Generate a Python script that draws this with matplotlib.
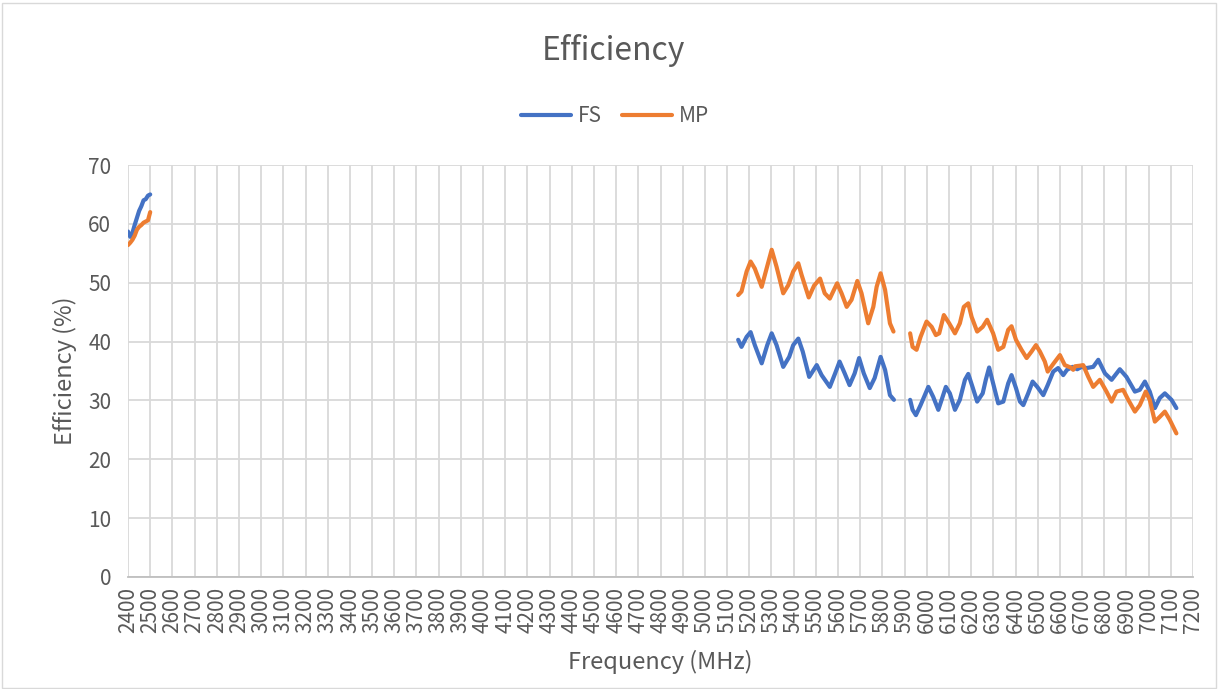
import matplotlib
matplotlib.use("Agg")
import matplotlib.pyplot as plt
import numpy as np

plt.rcParams['font.family'] = ['Noto Sans CJK JP', 'DejaVu Sans']

nan = np.nan

# FS series, three bands separated by gaps (nan)
fs_freq = [2400, 2410, 2420, 2430, 2440, 2450, 2460, 2470, 2480, 2490, 2500, nan,
           5150, 5165, 5188, 5206, 5225, 5256, 5281, 5301, 5323, 5353, 5380, 5398,
           5421, 5441, 5470, 5504, 5526, 5563, 5587, 5607, 5630, 5652, 5675, 5695,
           5716, 5743, 5765, 5792, 5812, 5834, 5852, nan,
           5925, 5936, 5951, 5972, 6007, 6029, 6052, 6067, 6086, 6104, 6127, 6149,
           6172, 6187, 6206, 6227, 6252, 6266, 6281, 6299, 6322, 6345, 6367, 6382,
           6402, 6420, 6435, 6457, 6477, 6498, 6525, 6545, 6570, 6592, 6615, 6632,
           6657, 6678, 6698, 6720, 6750, 6773, 6803, 6833, 6870, 6900, 6938, 6960,
           6983, 7005, 7028, 7050, 7073, 7103, 7125]
fs_eff = [58.7, 57.8, 58.5, 59.8, 61.0, 62.2, 63.0, 64.0, 64.2, 64.8, 65.0, nan,
          40.3, 39.1, 40.8, 41.6, 39.4, 36.3, 39.4, 41.4, 39.4, 35.7, 37.4, 39.4,
          40.5, 38.3, 34.0, 36.0, 34.3, 32.3, 34.6, 36.6, 34.6, 32.6, 34.6, 37.2,
          34.6, 32.1, 33.8, 37.4, 35.2, 30.9, 30.1, nan,
          30.1, 28.4, 27.5, 29.2, 32.3, 30.6, 28.4, 30.1, 32.3, 31.2, 28.4, 30.1,
          33.5, 34.5, 32.3, 29.8, 31.2, 33.5, 35.6, 32.9, 29.5, 29.8, 32.9, 34.3,
          32.1, 29.8, 29.2, 31.2, 33.2, 32.3, 30.9, 32.6, 34.9, 35.5, 34.3, 35.2,
          35.7, 35.3, 35.7, 35.5, 35.7, 36.9, 34.6, 33.5, 35.3, 34.0, 31.5, 31.8,
          33.2, 31.5, 28.7, 30.4, 31.2, 30.1, 28.7]

# MP series
mp_freq = [2400, 2410, 2420, 2430, 2440, 2450, 2460, 2470, 2480, 2490, 2500, nan,
           5150, 5165, 5188, 5206, 5225, 5256, 5278, 5301, 5323, 5353, 5376, 5398,
           5421, 5436, 5468, 5492, 5519, 5540, 5563, 5578, 5596, 5616, 5639, 5661,
           5687, 5706, 5736, 5759, 5774, 5792, 5812, 5834, 5850, nan,
           5925, 5936, 5954, 5972, 5999, 6022, 6041, 6056, 6077, 6101, 6127, 6149,
           6167, 6187, 6202, 6227, 6252, 6272, 6299, 6322, 6345, 6367, 6382, 6402,
           6427, 6450, 6472, 6492, 6510, 6532, 6545, 6570, 6600, 6622, 6648, 6660,
           6668, 6690, 6705, 6728, 6750, 6780, 6810, 6833, 6855, 6885, 6908, 6938,
           6960, 6987, 7005, 7028, 7050, 7073, 7095, 7125]
mp_eff = [56.4, 56.8, 57.3, 58.0, 59.0, 59.5, 59.8, 60.2, 60.4, 60.6, 62.0, nan,
          47.9, 48.5, 51.9, 53.6, 52.4, 49.3, 52.4, 55.6, 52.7, 48.2, 49.6, 51.9,
          53.3, 51.3, 47.5, 49.5, 50.7, 48.2, 47.3, 48.5, 49.9, 48.2, 45.9, 47.1,
          50.3, 48.2, 43.1, 45.9, 49.3, 51.6, 48.8, 43.1, 41.7, nan,
          41.4, 39.1, 38.6, 40.8, 43.4, 42.5, 41.1, 41.4, 44.5, 43.1, 41.4, 43.1,
          45.9, 46.5, 44.2, 41.7, 42.5, 43.7, 41.4, 38.6, 39.1, 42.0, 42.6, 40.3,
          38.6, 37.2, 38.3, 39.4, 38.3, 36.6, 34.9, 36.2, 37.7, 36.0, 35.6, 35.2,
          35.8, 35.9, 36.0, 34.0, 32.3, 33.5, 31.5, 29.8, 31.5, 31.8, 30.1, 28.1,
          29.2, 31.5, 30.1, 26.4, 27.2, 28.1, 26.7, 24.4]

text_col = '#595959'
grid_col = '#d9d9d9'

fig = plt.figure(figsize=(12.18, 6.89), dpi=100)
ax = fig.add_axes([0.1051, 0.1626, 0.8744, 0.5979])

ax.plot(fs_freq, fs_eff, color='#4472C4', lw=3, label='FS',
        solid_capstyle='round', solid_joinstyle='round')
ax.plot(mp_freq, mp_eff, color='#ED7D31', lw=3, label='MP',
        solid_capstyle='round', solid_joinstyle='round')

ax.set_xlim(2400, 7200)
ax.set_ylim(0, 70)
ax.set_xticks(np.arange(2400, 7201, 100))
ax.set_yticks(np.arange(0, 71, 10))
ax.tick_params(axis='x', labelrotation=90, length=0, labelsize=15, colors=text_col, pad=7)
ax.tick_params(axis='y', length=0, labelsize=15, colors=text_col, pad=12)
ax.grid(True, color=grid_col, lw=1.3)
ax.set_axisbelow(True)
for s in ['top', 'right', 'left']:
    ax.spines[s].set_visible(False)
ax.spines['bottom'].set_color('#bfbfbf')
ax.spines['bottom'].set_linewidth(1.3)

ax.set_xlabel('Frequency (MHz)', fontsize=17, color=text_col, labelpad=12)
ax.set_ylabel('Efficiency (%)', fontsize=17, color=text_col, labelpad=8)

fig.text(0.504, 0.927, 'Efficiency', ha='center', va='center', fontsize=23, color=text_col)
fig.legend(loc='center', bbox_to_anchor=(0.505, 0.831), ncol=2, frameon=False,
           fontsize=15, labelcolor=text_col, handlelength=2.4, columnspacing=1.0,
           handletextpad=0.3)

fig.patches.append(plt.Rectangle((0.002, 0.002), 0.996, 0.994, transform=fig.transFigure,
                                 fill=False, edgecolor=grid_col, lw=1))

fig.savefig('out.png', dpi=100)
